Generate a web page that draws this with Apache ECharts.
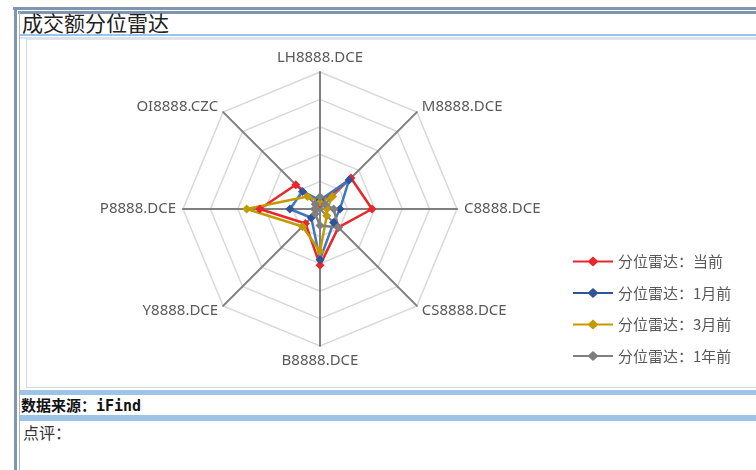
<!DOCTYPE html>
<html>
<head>
<meta charset="utf-8">
<script src="https://cdn.jsdelivr.net/npm/echarts@6/dist/echarts.min.js"></script>
<style>
    html, body { margin: 0; padding: 0; background: #fff; width: 756px; height: 470px; overflow: hidden; }
    .ln { position: absolute; }
    .tit { position: absolute; left: 22px; top: 9px; font-family: "Noto Sans CJK SC", sans-serif; font-size: 21px; color: #222; line-height: 27px; }
    .src { position: absolute; left: 21px; top: 397px; font-family: "DejaVu Sans Mono", "Noto Sans CJK SC", monospace; font-weight: bold; font-size: 15px; color: #111; line-height: 18px; }
    .cmt { position: absolute; left: 23px; top: 421px; font-family: "Noto Sans CJK SC", sans-serif; font-size: 16px; color: #333; line-height: 22px; }
    #echart1 { position: absolute; left: 27px; top: 40px; width: 729px; height: 347px; }
</style>
</head>
<body>
<!-- frame lines -->
<div class="ln" style="left:13px;top:7px;width:743px;height:3px;background:#8096b0"></div>
<div class="ln" style="left:18px;top:11px;width:738px;height:3px;background:#8096b0"></div>
<div class="ln" style="left:14px;top:7px;width:3px;height:463px;background:#8096b0"></div>
<div class="ln" style="left:19px;top:11px;width:1px;height:459px;background:#a8b4c4"></div>
<div class="ln" style="left:20px;top:34px;width:736px;height:2px;background:#9dc3e6"></div>
<div class="ln" style="left:20px;top:37px;width:736px;height:2px;background:#d6e4f2"></div>
<div class="ln" style="left:26px;top:39px;width:1px;height:349px;background:#d9d9d9"></div>
<div class="ln" style="left:26px;top:39px;width:730px;height:1px;background:#e4e4e4"></div>
<div class="ln" style="left:26px;top:387px;width:730px;height:1px;background:#d9d9d9"></div>
<div class="ln" style="left:20px;top:390px;width:736px;height:5px;background:#9dc3e6"></div>
<div class="ln" style="left:20px;top:415px;width:736px;height:6px;background:#9dc3e6"></div>

<div class="tit">成交额分位雷达</div>
<div id="echart1"></div>
<div class="src">数据来源：iFind</div>
<div class="cmt">点评：</div>

<script>
// 品种，从正上方开始顺时针
var categories = ["LH8888.DCE","M8888.DCE","C8888.DCE","CS8888.DCE","B8888.DCE","Y8888.DCE","P8888.DCE","OI8888.CZC"];
var seriesNames = ["分位雷达：当前","分位雷达：1月前","分位雷达：3月前","分位雷达：1年前"];
var nowData   = [0.04, 0.32, 0.38, 0.19, 0.41, 0.15, 0.44, 0.25];
var m1Data    = [0.065, 0.30, 0.146, 0.14, 0.37, 0.09, 0.22, 0.18];
var m3Data    = [0.05, 0.13, 0.05, 0.07, 0.31, 0.18, 0.535, 0.13];
var y1Data    = [0.09, 0.05, 0.10, 0.19, 0.12, 0.05, 0.04, 0.05];
var colors    = ['#e8262b','#3d77bd','#c49a00','#7f7f7f'];
var markColors = ['#e8262b','#2f5597','#c49a00','#7f7f7f'];

// echarts 雷达是逆时针排的，这里换一下顺序
var order = [0,7,6,5,4,3,2,1];
function reorder(arr){
    var out = [];
    for(var i=0;i<order.length;i++){
        out.push(arr[order[i]]);
    }
    return out;
}

var allData = [nowData, m1Data, m3Data, y1Data];
var indicator = [];
var cats = reorder(categories);
for(var i=0;i<cats.length;i++){
    indicator.push({name: cats[i], max: 1, min: 0});
}
var radarData = [];
for(var k=0;k<allData.length;k++){
    radarData.push({
        name: seriesNames[k],
        value: reorder(allData[k]),
        lineStyle: {color: colors[k], width: 2.5},
        itemStyle: {color: markColors[k]}
    });
}

var myChart = echarts.init(document.getElementById('echart1'));
var option = {
    animation: false,
    backgroundColor: '#fff',
    legend: {
        data: seriesNames,
        orient: 'vertical',
        left: 541,
        top: 209,
        itemWidth: 40,
        itemHeight: 10,
        itemGap: 16.5,
        icon: 'path://M0,4H15.5L20,0L24.5,4H40V6H24.5L20,10L15.5,6H0Z',
        textStyle: {
            fontSize: 15,
            fontFamily: "Noto Sans CJK SC",
            color: '#595959'
        }
    },
    radar: {
        center: [293, 169],
        radius: 137,
        startAngle: 90,
        splitNumber: 5,
        shape: 'polygon',
        indicator: indicator,
        axisNameGap: 7,
        axisName: {
            color: '#595959',
            fontSize: 15,
            fontFamily: "Noto Sans"
        },
        axisLine: {
            lineStyle: {color: '#7f7f7f', width: 2}
        },
        splitLine: {
            lineStyle: {color: '#d9d9d9', width: 1.5}
        },
        splitArea: {show: false}
    },
    series: [{
        type: 'radar',
        symbol: 'diamond',
        symbolSize: 9,
        data: radarData
    }]
};
myChart.setOption(option);
</script>
</body>
</html>
